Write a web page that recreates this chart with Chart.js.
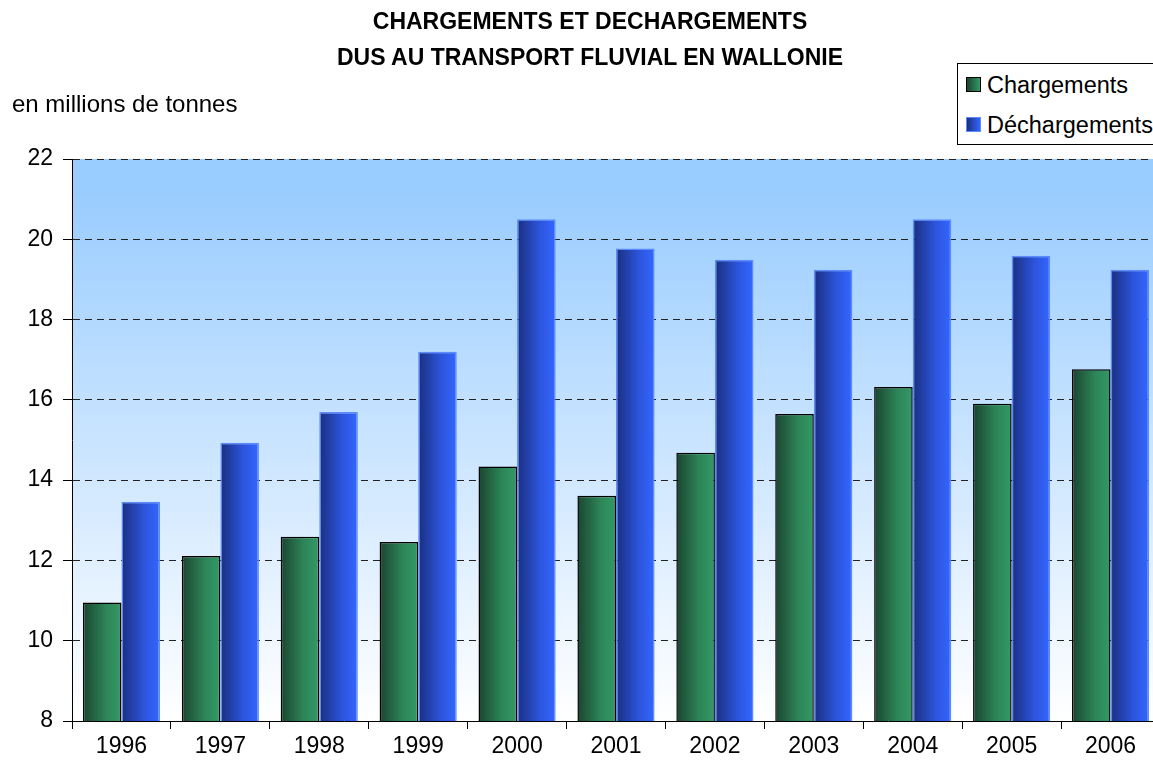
<!DOCTYPE html>
<html>
<head>
<meta charset="utf-8">
<script src="https://cdn.jsdelivr.net/npm/chart.js@4"></script>
<style>
  html, body { margin: 0; padding: 0; background: #fff; overflow: hidden; width: 1153px; height: 769px; }
  #wrap { position: relative; width: 1153px; height: 769px; overflow: hidden; }
  #chart { position: absolute; left: 0; top: 0; }
  .title { position: absolute; left: 0; width: 1180px; text-align: center; font: bold 23px "Liberation Sans", Arial, sans-serif; color: #000; white-space: nowrap; }
  #unit { position: absolute; left: 12px; top: 90px; font: 24px "Liberation Sans", Arial, sans-serif; color: #000; white-space: nowrap; }
  #legend { position: absolute; left: 957px; top: 63px; width: 215px; height: 82px; border: 1px solid #000; background: #fff; box-sizing: border-box; }
  .item { position: absolute; left: 8px; font: 23.5px "Liberation Sans", Arial, sans-serif; color: #000; white-space: nowrap; line-height: 26px; }
  .sw { display: inline-block; width: 13px; height: 13px; vertical-align: middle; margin-right: 6px; position: relative; top: -2px; }
</style>
</head>
<body>
<div id="wrap">
  <canvas id="chart" width="1162" height="769"></canvas>
  <div class="title" id="t1" style="top:8px">CHARGEMENTS ET DECHARGEMENTS</div>
  <div class="title" id="t2" style="top:44px">DUS AU TRANSPORT FLUVIAL EN WALLONIE</div>
  <div id="unit">en millions de tonnes</div>
  <div id="legend">
    <div class="item" style="top:8px"><span class="sw" style="background:linear-gradient(to right,#1a4530,#339966);border:1px solid #000"></span>Chargements</div>
    <div class="item" style="top:48px"><span class="sw" style="background:linear-gradient(to right,#1a2f80,#3366ff);border:1px solid #5c8aff"></span>Déchargements</div>
  </div>
</div>
<script>
const years = ["1996","1997","1998","1999","2000","2001","2002","2003","2004","2005","2006"];
const chargements = [10.95, 12.11, 12.59, 12.46, 14.34, 13.61, 14.68, 15.65, 16.32, 15.90, 16.76];
const dechargements = [13.46, 14.93, 15.70, 17.20, 20.50, 19.77, 19.49, 19.24, 20.50, 19.59, 19.24];
const yTicks = [8, 10, 12, 14, 16, 18, 20, 22];

const CAT_PCT = 0.78;
const FONT = "'Liberation Sans', Arial, sans-serif";

function barGradient(dark, mid, light) {
  return function (ctx) {
    const chart = ctx.chart;
    const xs = chart.scales && chart.scales.x;
    if (ctx.type !== 'data' || !xs || !chart.chartArea) return light;
    const c = xs.getPixelForValue(ctx.dataIndex);
    const cw = xs.width / years.length;
    const gw = cw * CAT_PCT;
    const bw = gw / 2;
    const left = ctx.datasetIndex === 0 ? c - gw / 2 : c;
    const g = chart.ctx.createLinearGradient(left, 0, left + bw, 0);
    g.addColorStop(0, dark);
    g.addColorStop(0.6, mid);
    g.addColorStop(1, light);
    return g;
  };
}

const plotBg = {
  id: 'plotBg',
  beforeDraw(chart) {
    const a = chart.chartArea;
    if (!a) return;
    const c = chart.ctx;
    const g = c.createLinearGradient(0, a.top, 0, a.bottom);
    g.addColorStop(0, '#99ccff');
    g.addColorStop(0.05, '#99ccff');
    g.addColorStop(1, '#ffffff');
    c.save();
    c.fillStyle = g;
    c.fillRect(a.left, a.top, a.right - a.left, a.bottom - a.top);
    c.restore();
  }
};

new Chart(document.getElementById('chart'), {
  type: 'bar',
  data: {
    labels: years,
    datasets: [
      {
        label: 'Chargements',
        data: chargements,
        backgroundColor: barGradient('#1a4530', '#2d8558', '#339966'),
        borderColor: '#000000',
        borderWidth: 1.5,
        borderSkipped: 'start'
      },
      {
        label: 'Déchargements',
        data: dechargements,
        backgroundColor: barGradient('#1a2f80', '#2d55dd', '#3366ff'),
        borderColor: '#5c8aff',
        borderWidth: 1.5,
        borderSkipped: 'start'
      }
    ]
  },
  options: {
    responsive: false,
    animation: false,
    devicePixelRatio: 1,
    categoryPercentage: CAT_PCT,
    barPercentage: 1,
    layout: { padding: { top: 159, right: 2, left: 0, bottom: 0 } },
    plugins: {
      legend: { display: false },
      title: { display: false },
      tooltip: { enabled: false }
    },
    scales: {
      x: {
        grid: { display: true, drawOnChartArea: false, offset: true, tickLength: 8, color: '#000', lineWidth: 1 },
        border: { display: true, color: '#000', width: 1 },
        ticks: { color: '#000', font: { family: FONT, size: 23 }, padding: 4, maxRotation: 0 },
        afterFit(scale) { scale.height = 48; }
      },
      y: {
        min: 8,
        max: 22,
        afterBuildTicks(scale) { scale.ticks = yTicks.map(v => ({ value: v })); },
        grid: { color: '#222', lineWidth: 1, tickLength: 9, tickBorderDash: [], tickColor: '#000' },
        border: { display: true, color: '#000', width: 1, dash: [7, 5] },
        ticks: { color: '#000', font: { family: FONT, size: 23 }, padding: 10 },
        afterFit(scale) { scale.width = 72; }
      }
    }
  },
  plugins: [plotBg]
});
</script>
</body>
</html>
